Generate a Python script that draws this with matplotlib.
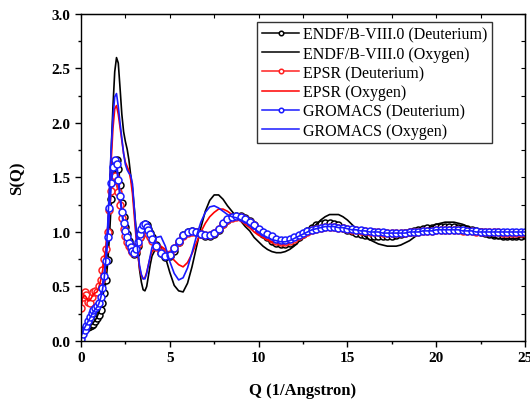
import numpy as np
import matplotlib
matplotlib.use('Agg')
import matplotlib.pyplot as plt
from matplotlib.ticker import MultipleLocator

# Q grid: 0.1 steps up to 4, then 0.25 steps up to 25
q = np.concatenate([np.round(np.arange(0, 4.001, 0.1), 2),
                    np.round(np.arange(4.25, 25.001, 0.25), 2)])

endf_d = [
    0.05, 0.09, 0.11, 0.12, 0.13, 0.14, 0.15, 0.16, 0.18, 0.21,
    0.24, 0.28, 0.35, 0.44, 0.56, 0.74, 1.00, 1.30, 1.52, 1.63,
    1.66, 1.58, 1.43, 1.27, 1.14, 1.05, 0.98, 0.92, 0.87, 0.83,
    0.80, 0.81, 0.87, 0.95, 1.01, 1.05, 1.07, 1.06, 1.03, 0.99,
    0.95,
    0.88, 0.81, 0.77, 0.78, 0.83, 0.91, 0.97, 1.00, 1.01, 1.00,
    0.98, 0.96, 0.96, 0.98, 1.02, 1.07, 1.11, 1.14, 1.15, 1.15,
    1.13, 1.10, 1.06, 1.02, 0.98, 0.95, 0.92, 0.90, 0.89, 0.89,
    0.90, 0.92, 0.95, 0.98, 1.01, 1.04, 1.06, 1.07, 1.08, 1.08,
    1.07, 1.06, 1.04, 1.02, 1.01, 0.99, 0.98, 0.97, 0.96, 0.96,
    0.96, 0.96, 0.96, 0.96, 0.97, 0.98, 0.99, 1.00, 1.01, 1.02,
    1.03, 1.04, 1.04, 1.05, 1.05, 1.05, 1.05, 1.05, 1.04, 1.04,
    1.03, 1.02, 1.01, 1.00, 0.99, 0.98, 0.97, 0.97, 0.96, 0.96,
    0.96, 0.96, 0.96, 0.97]

endf_o = [
    0.08, 0.10, 0.11, 0.12, 0.13, 0.14, 0.15, 0.17, 0.19, 0.22,
    0.26, 0.31, 0.38, 0.48, 0.64, 0.90, 1.30, 1.75, 2.15, 2.47,
    2.60, 2.55, 2.32, 2.08, 1.92, 1.83, 1.76, 1.66, 1.52, 1.40,
    1.22, 1.03, 0.83, 0.65, 0.54, 0.47, 0.46, 0.50, 0.60, 0.70,
    0.78,
    0.86, 0.86, 0.77, 0.63, 0.51, 0.46, 0.45, 0.53, 0.68, 0.86,
    1.04, 1.19, 1.29, 1.34, 1.34, 1.30, 1.24, 1.19, 1.14, 1.10,
    1.05, 1.01, 0.95, 0.91, 0.87, 0.84, 0.82, 0.81, 0.81, 0.82,
    0.84, 0.87, 0.91, 0.95, 0.99, 1.03, 1.07, 1.11, 1.14, 1.16,
    1.16, 1.16, 1.14, 1.11, 1.07, 1.03, 0.99, 0.96, 0.93, 0.91,
    0.89, 0.88, 0.87, 0.87, 0.87, 0.88, 0.90, 0.92, 0.95, 0.98,
    1.01, 1.03, 1.05, 1.07, 1.08, 1.09, 1.09, 1.09, 1.08, 1.07,
    1.05, 1.03, 1.01, 0.99, 0.97, 0.96, 0.95, 0.94, 0.94, 0.94,
    0.94, 0.94, 0.95, 0.95]

epsr_d = [
    0.30, 0.40, 0.45, 0.42, 0.36, 0.35, 0.40, 0.45, 0.46, 0.45,
    0.50, 0.56, 0.65, 0.75, 0.84, 1.00, 1.20, 1.38, 1.48, 1.51,
    1.47, 1.37, 1.25, 1.13, 1.03, 0.96, 0.91, 0.87, 0.84, 0.82,
    0.81, 0.83, 0.89, 0.95, 0.99, 1.01, 1.01, 1.00, 0.98, 0.95,
    0.92,
    0.86, 0.82, 0.79, 0.80, 0.85, 0.91, 0.96, 0.99, 1.00, 1.00,
    0.98, 0.97, 0.97, 0.99, 1.03, 1.07, 1.11, 1.13, 1.14, 1.14,
    1.12, 1.09, 1.06, 1.02, 0.99, 0.96, 0.94, 0.92, 0.91, 0.91,
    0.92, 0.94, 0.96, 0.98, 1.00, 1.02, 1.03, 1.04, 1.05, 1.05,
    1.05, 1.04, 1.04, 1.03, 1.02, 1.02, 1.01, 1.01, 1.00, 1.00,
    1.00, 0.99, 0.99, 0.99, 0.99, 0.99, 0.99, 1.00, 1.00, 1.00,
    1.01, 1.01, 1.01, 1.02, 1.02, 1.02, 1.02, 1.02, 1.02, 1.01,
    1.01, 1.01, 1.00, 1.00, 1.00, 1.00, 1.00, 1.00, 0.99, 0.99,
    0.99, 0.99, 0.99, 0.99]

epsr_o = [
    0.35, 0.40, 0.42, 0.40, 0.37, 0.37, 0.40, 0.43, 0.44, 0.45,
    0.49, 0.55, 0.63, 0.73, 0.85, 1.02, 1.30, 1.65, 1.95, 2.13,
    2.16, 2.08, 1.96, 1.84, 1.72, 1.64, 1.60, 1.56, 1.48, 1.35,
    1.15, 0.95, 0.79, 0.67, 0.60, 0.57, 0.58, 0.63, 0.70, 0.77,
    0.82,
    0.87, 0.87, 0.84, 0.79, 0.74, 0.70, 0.68, 0.72, 0.80, 0.90,
    1.00, 1.08, 1.14, 1.18, 1.21, 1.21, 1.19, 1.16, 1.13, 1.10,
    1.07, 1.04, 1.00, 0.97, 0.95, 0.93, 0.91, 0.90, 0.89, 0.89,
    0.90, 0.92, 0.94, 0.96, 0.99, 1.01, 1.03, 1.05, 1.06, 1.06,
    1.06, 1.05, 1.04, 1.03, 1.02, 1.01, 1.00, 0.99, 0.99, 0.98,
    0.98, 0.98, 0.98, 0.98, 0.98, 0.99, 0.99, 1.00, 1.00, 1.01,
    1.01, 1.02, 1.02, 1.02, 1.03, 1.03, 1.03, 1.03, 1.02, 1.02,
    1.01, 1.01, 1.00, 1.00, 0.99, 0.99, 0.99, 0.99, 0.99, 0.99,
    0.99, 0.99, 0.99, 0.99]

gromacs_d = [
    0.02, 0.06, 0.10, 0.14, 0.18, 0.22, 0.26, 0.28, 0.30, 0.32,
    0.35, 0.40, 0.49, 0.60, 0.73, 0.95, 1.22, 1.45, 1.60, 1.66,
    1.62, 1.48, 1.33, 1.18, 1.08, 1.01, 0.95, 0.90, 0.86, 0.83,
    0.81, 0.84, 0.91, 0.98, 1.03, 1.06, 1.07, 1.05, 1.02, 0.98,
    0.94,
    0.87, 0.81, 0.78, 0.79, 0.85, 0.92, 0.97, 1.00, 1.01, 1.00,
    0.98, 0.97, 0.97, 0.99, 1.03, 1.08, 1.12, 1.14, 1.15, 1.14,
    1.12, 1.09, 1.06, 1.03, 1.00, 0.98, 0.96, 0.94, 0.93, 0.93,
    0.94, 0.95, 0.97, 0.99, 1.01, 1.02, 1.03, 1.04, 1.05, 1.05,
    1.05, 1.04, 1.04, 1.03, 1.03, 1.02, 1.02, 1.01, 1.01, 1.00,
    1.00, 1.00, 0.99, 0.99, 0.99, 0.99, 0.99, 1.00, 1.00, 1.00,
    1.01, 1.01, 1.01, 1.02, 1.02, 1.02, 1.02, 1.02, 1.02, 1.02,
    1.01, 1.01, 1.01, 1.00, 1.00, 1.00, 1.00, 1.00, 1.00, 1.00,
    1.00, 1.00, 1.00, 1.00]

gromacs_o = [
    0.04, 0.08, 0.12, 0.15, 0.18, 0.21, 0.24, 0.27, 0.29, 0.31,
    0.34, 0.39, 0.46, 0.56, 0.75, 1.05, 1.40, 1.76, 2.05, 2.24,
    2.27, 2.15, 2.00, 1.86, 1.72, 1.62, 1.57, 1.54, 1.52, 1.44,
    1.22, 1.00, 0.82, 0.69, 0.61, 0.57, 0.57, 0.62, 0.70, 0.78,
    0.86,
    0.95, 0.96, 0.87, 0.73, 0.62, 0.56, 0.58, 0.67, 0.81, 0.96,
    1.09, 1.18, 1.23, 1.24, 1.22, 1.19, 1.16, 1.14, 1.13, 1.11,
    1.09, 1.06, 1.03, 1.00, 0.97, 0.95, 0.93, 0.92, 0.91, 0.91,
    0.92, 0.94, 0.96, 0.98, 1.00, 1.02, 1.03, 1.04, 1.05, 1.05,
    1.05, 1.04, 1.04, 1.03, 1.02, 1.02, 1.01, 1.01, 1.00, 1.00,
    1.00, 0.99, 0.99, 0.99, 0.99, 0.99, 0.99, 1.00, 1.00, 1.00,
    1.01, 1.01, 1.01, 1.02, 1.02, 1.02, 1.02, 1.02, 1.02, 1.01,
    1.01, 1.01, 1.00, 1.00, 1.00, 1.00, 1.00, 1.00, 1.00, 1.00,
    1.00, 1.00, 1.00, 1.00]

plt.rcParams['font.family'] = ['Liberation Serif', 'DejaVu Serif']

fig = plt.figure(figsize=(5.3, 4.02), dpi=100)
ax = fig.add_axes([0.1528, 0.1493, 0.8377, 0.8134])

mk = dict(marker='o', markersize=5, markerfacecolor='white', markeredgewidth=1.1, linewidth=1.6)
ax.plot(q, endf_d, color='black', label='ENDF/B-VIII.0 (Deuterium)', **mk)
ax.plot(q, endf_o, color='black', linewidth=1.2, label='ENDF/B-VIII.0 (Oxygen)')
ax.plot(q, epsr_d, color='#ff2020', label='EPSR (Deuterium)', **mk)
ax.plot(q, epsr_o, color='#ff0000', linewidth=1.2, label='EPSR (Oxygen)')
ax.plot(q, gromacs_d, color='#1a1aff', label='GROMACS (Deuterium)', **mk)
ax.plot(q, gromacs_o, color='#1a1aff', linewidth=1.2, label='GROMACS (Oxygen)')

ax.set_xlim(0, 25)
ax.set_ylim(0, 3.0)
ax.xaxis.set_major_locator(MultipleLocator(5))
ax.xaxis.set_minor_locator(MultipleLocator(2.5))
ax.yaxis.set_major_locator(MultipleLocator(0.5))
ax.yaxis.set_minor_locator(MultipleLocator(0.25))
ax.set_yticks(np.arange(0, 3.01, 0.5))
ax.set_yticklabels(['0.0', '0.5', '1.0', '1.5', '2.0', '2.5', '3.0'])

ax.tick_params(axis='both', which='both', direction='out', labelsize=11, width=1)
ax.tick_params(which='major', length=4)
ax.tick_params(which='minor', length=2.5)
for lab in ax.get_xticklabels() + ax.get_yticklabels():
    lab.set_fontweight('bold')

# inward ticks on top and right
axt = ax.secondary_xaxis('top')
axt.xaxis.set_major_locator(MultipleLocator(2.5))
axt.tick_params(direction='in', length=3, labeltop=False)
axr = ax.secondary_yaxis('right')
axr.yaxis.set_major_locator(MultipleLocator(0.25))
axr.tick_params(direction='in', length=3, labelright=False)

for s in ax.spines.values():
    s.set_linewidth(1.0)

ax.set_xlabel('Q (1/Angstron)', fontsize=12, fontweight='bold', labelpad=13)
ax.set_ylabel('S(Q)', fontsize=12, fontweight='bold', labelpad=19)

leg = ax.legend(loc='upper right', bbox_to_anchor=(0.926, 0.976), fontsize=11.5,
                numpoints=1, markerscale=0.65, handlelength=2.3, labelspacing=0.2,
                borderpad=0.3, handletextpad=0.25, frameon=True, fancybox=False,
                borderaxespad=0)
leg.get_frame().set_edgecolor('black')
leg.get_frame().set_linewidth(1.0)
for h in leg.legend_handles:
    h.set_linewidth(1.1)

fig.savefig('out.png', dpi=100)
